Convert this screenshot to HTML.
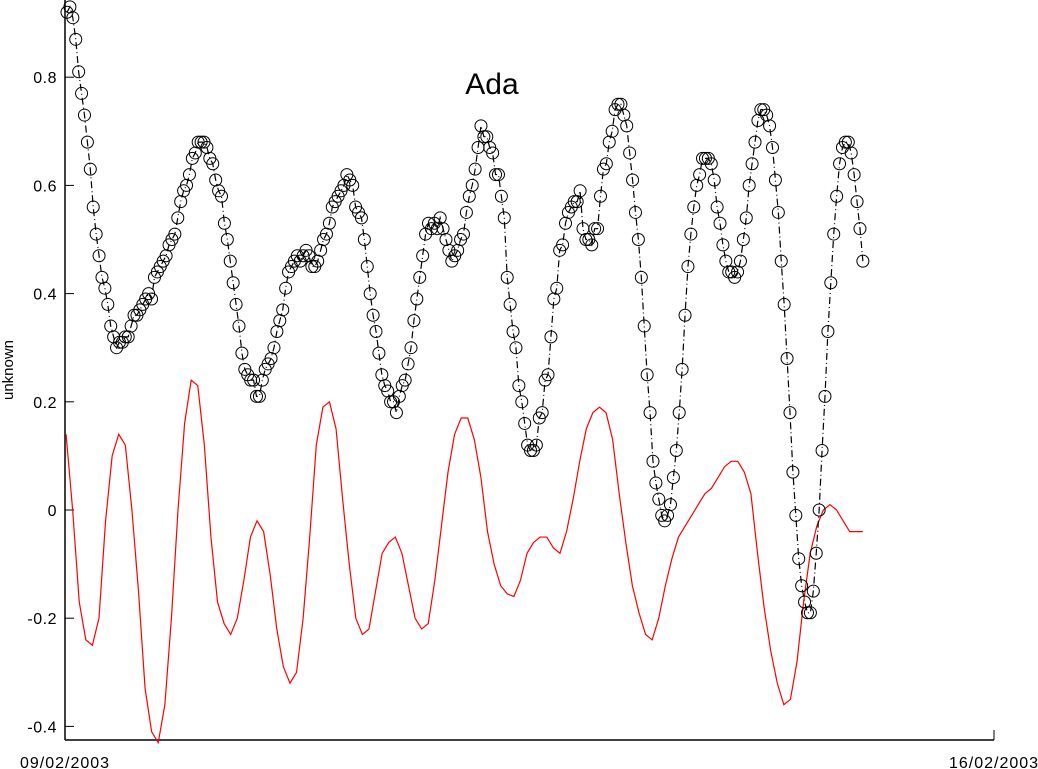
<!DOCTYPE html>
<html><head><meta charset="utf-8"><style>
html,body{margin:0;padding:0;background:#fff;}
svg{display:block;font-family:"Liberation Sans",sans-serif;}
</style></head><body>
<svg id="chart" width="1038" height="769" viewBox="0 0 1038 769" xmlns="http://www.w3.org/2000/svg">
<rect width="1038" height="769" fill="#fff"/>
<text x="492" y="94" font-size="30" text-anchor="middle">Ada</text>
<text transform="translate(13,370) rotate(-90)" font-size="15" text-anchor="middle">unknown</text>
<g id="axes"></g>
<g id="series"></g>
</svg>
<script>
const yTicks = [-0.4, -0.2, 0, 0.2, 0.4, 0.6, 0.8];
const yTickLabels = ["-0.4", "-0.2", "0", "0.2", "0.4", "0.6", "0.8"];
const xTickDays = [0, 7];
const xTickLabels = ["09/02/2003", "16/02/2003"];
const blackStartDay = 0.015, blackEndDay = 6.012;
const redStartDay = 0.008, redEndDay = 6.012;
const blackValues = [0.92,0.93,0.91,0.87,0.81,0.77,0.73,0.68,0.63,0.56,0.51,0.47,0.43,0.41,0.38,0.34,0.32,0.30,0.31,0.31,0.32,0.32,0.34,0.36,0.36,0.37,0.38,0.39,0.40,0.39,0.43,0.44,0.45,0.46,0.47,0.49,0.50,0.51,0.54,0.57,0.59,0.60,0.62,0.65,0.66,0.68,0.68,0.68,0.67,0.65,0.64,0.61,0.59,0.58,0.53,0.50,0.46,0.42,0.38,0.34,0.29,0.26,0.25,0.24,0.24,0.21,0.21,0.24,0.26,0.27,0.28,0.30,0.33,0.35,0.37,0.41,0.44,0.45,0.46,0.47,0.46,0.47,0.48,0.47,0.45,0.45,0.46,0.48,0.50,0.51,0.53,0.56,0.57,0.58,0.59,0.60,0.62,0.61,0.60,0.56,0.55,0.54,0.50,0.45,0.40,0.36,0.33,0.29,0.25,0.23,0.22,0.20,0.20,0.18,0.21,0.23,0.24,0.27,0.30,0.35,0.39,0.43,0.47,0.51,0.53,0.52,0.53,0.52,0.54,0.52,0.50,0.48,0.46,0.47,0.48,0.50,0.51,0.55,0.58,0.60,0.63,0.67,0.71,0.69,0.69,0.67,0.66,0.62,0.62,0.58,0.54,0.43,0.38,0.33,0.30,0.23,0.20,0.16,0.12,0.11,0.11,0.12,0.17,0.18,0.24,0.25,0.32,0.39,0.41,0.48,0.49,0.53,0.55,0.56,0.57,0.57,0.59,0.52,0.50,0.50,0.49,0.52,0.52,0.58,0.63,0.64,0.68,0.70,0.74,0.75,0.75,0.73,0.71,0.66,0.61,0.55,0.50,0.43,0.34,0.25,0.18,0.09,0.05,0.02,-0.01,-0.02,-0.01,0.01,0.06,0.11,0.18,0.26,0.36,0.45,0.51,0.56,0.60,0.62,0.65,0.65,0.65,0.64,0.61,0.56,0.53,0.49,0.46,0.44,0.44,0.43,0.44,0.46,0.50,0.54,0.60,0.64,0.68,0.72,0.74,0.74,0.73,0.71,0.67,0.61,0.55,0.46,0.38,0.28,0.18,0.07,-0.01,-0.09,-0.14,-0.17,-0.19,-0.19,-0.15,-0.08,0.00,0.11,0.21,0.33,0.42,0.51,0.58,0.64,0.67,0.68,0.68,0.66,0.62,0.57,0.52,0.46];
const redValues = [0.14,0.0,-0.17,-0.24,-0.25,-0.2,-0.02,0.1,0.14,0.12,0.0,-0.15,-0.33,-0.41,-0.43,-0.36,-0.2,0.0,0.16,0.24,0.23,0.12,-0.05,-0.17,-0.21,-0.23,-0.2,-0.13,-0.05,-0.02,-0.04,-0.12,-0.22,-0.29,-0.32,-0.3,-0.2,-0.05,0.12,0.19,0.2,0.15,0.02,-0.1,-0.2,-0.23,-0.22,-0.15,-0.08,-0.06,-0.05,-0.08,-0.14,-0.2,-0.22,-0.21,-0.13,-0.03,0.07,0.14,0.17,0.17,0.13,0.06,-0.04,-0.1,-0.14,-0.155,-0.16,-0.13,-0.08,-0.06,-0.05,-0.05,-0.07,-0.08,-0.04,0.02,0.09,0.15,0.18,0.19,0.18,0.13,0.03,-0.06,-0.14,-0.19,-0.23,-0.24,-0.2,-0.14,-0.09,-0.05,-0.03,-0.01,0.01,0.03,0.04,0.06,0.08,0.09,0.09,0.07,0.03,-0.08,-0.18,-0.26,-0.32,-0.36,-0.35,-0.28,-0.17,-0.08,-0.03,0.0,0.01,0.0,-0.02,-0.04,-0.04,-0.04];

const NS = "http://www.w3.org/2000/svg";
const X0 = 65, X1 = 994, Y0PX = 510, PX_PER_UNIT = 541;
function xScale(day){ return X0 + (X1 - X0) * day / 7; }
function yScale(v){ return Y0PX - v * PX_PER_UNIT; }
function mk(tag, attrs, parent){ const e = document.createElementNS(NS, tag); for (const k in attrs) e.setAttribute(k, attrs[k]); parent.appendChild(e); return e; }

const axes = document.getElementById('axes');
const yAxis = mk('line', {x1:X0, y1:0, x2:X0, y2:740, stroke:'#000', 'stroke-width':1.5}, axes);


const xAxis = mk('line', {x1:X0, y1:740, x2:X1, y2:740, stroke:'#000', 'stroke-width':1.5}, axes);


yTicks.forEach((v, i) => {
  const y = yScale(v);
  const t = mk('line', {x1:X0, y1:y, x2:X0+9, y2:y, stroke:'#000', 'stroke-width':1}, axes);
  
  
  const l = mk('text', {x:X0-8, y:y+6, 'font-size':16, 'letter-spacing':0.5, 'text-anchor':'end'}, axes);
  l.textContent = yTickLabels[i];
  
  
});
xTickDays.forEach((d, i) => {
  const x = xScale(d);
  const t = mk('line', {x1:x, y1:740, x2:x, y2:730, stroke:'#000', 'stroke-width':1}, axes);
  
  
  const l = mk('text', {x:x, y:768, 'font-size':16, 'letter-spacing':1, 'text-anchor':'middle'}, axes);
  l.textContent = xTickLabels[i];
  
  
});

const series = document.getElementById('series');
function pts(vals, d0, d1){ return vals.map((v, i) => [xScale(d0 + (d1 - d0) * i / (vals.length - 1)), yScale(v)]); }
const rp = pts(redValues, redStartDay, redEndDay);
const redLine = mk('polyline', {points: rp.map(p => p.join(',')).join(' '), fill:'none', stroke:'#f00', 'stroke-width':1.2}, series);


const bp = pts(blackValues, blackStartDay, blackEndDay);
const blackLine = mk('polyline', {points: bp.map(p => p.join(',')).join(' '), fill:'none', stroke:'#000', 'stroke-width':1.2, 'stroke-dasharray':'7 3 1 3'}, series);


bp.forEach(p => {
  const c = mk('circle', {cx:p[0], cy:p[1], r:6, fill:'none', stroke:'#000', 'stroke-width':1}, series);
  
  
});
</script>
</body></html>
